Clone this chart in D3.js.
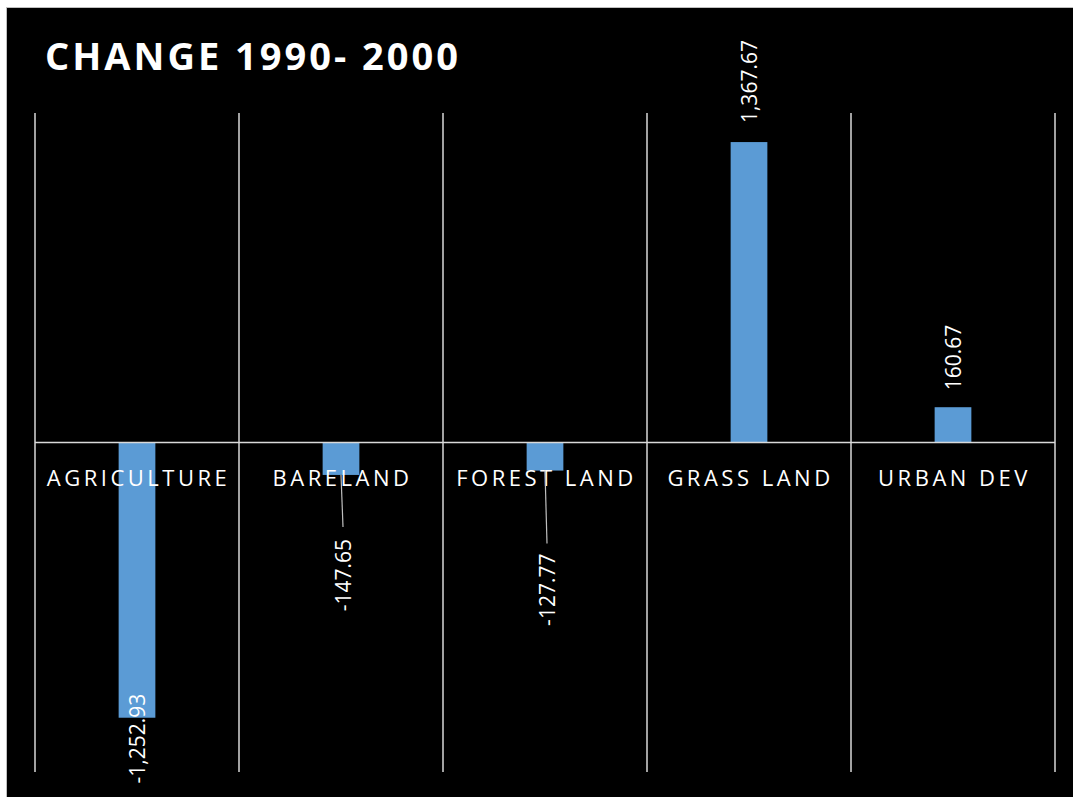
<!DOCTYPE html>
<html>
<head>
<meta charset="utf-8">
<script src="https://cdn.jsdelivr.net/npm/d3@7"></script>
<style>
  body { margin: 0; background: #fff; }
  svg { display: block; }
</style>
</head>
<body>
<svg id="chart" width="1073" height="797"></svg>
<script>
const categories = ["AGRICULTURE", "BARELAND", "FOREST LAND", "GRASS LAND", "URBAN DEV"];
const values = [-1252.93, -147.65, -127.77, 1367.67, 160.67];
const labelText = ["-1,252.93", "-147.65", "-127.77", "1,367.67", "160.67"];

const width = 1073, height = 797;
const svg = d3.select("#chart");

// black chart area with light frame
svg.append("rect")
  .attr("x", 6.5).attr("y", 7.5)
  .attr("width", width).attr("height", height)
  .attr("fill", "#000")
  .attr("stroke", "#bfbfbf")
  .attr("stroke-width", 1);

svg.append("text")
  .attr("x", 45).attr("y", 70)
  .attr("fill", "#fff")
  .style("font-family", "'Open Sans', sans-serif")
  .style("font-weight", "bold")
  .style("font-size", "38px")
  .style("letter-spacing", "3px")
  .text("CHANGE 1990- 2000");

const x = d3.scaleBand().domain(categories).range([35, 1055]).padding(0);
const y = d3.scaleLinear().domain([-1500, 1500]).range([772, 113]);
const barW = x.bandwidth() * 0.18;

// vertical gridlines at category edges
const edges = categories.map(c => x(c)).concat([x.range()[1]]);
svg.append("g").selectAll("line")
  .data(edges)
  .join("line")
  .attr("x1", d => d).attr("x2", d => d)
  .attr("y1", y(1500)).attr("y2", y(-1500))
  .attr("stroke", "#d9d9d9")
  .attr("stroke-width", 1.5);

// bars
svg.append("g").selectAll("rect")
  .data(values)
  .join("rect")
  .attr("x", (d, i) => x(categories[i]) + x.bandwidth() / 2 - barW / 2)
  .attr("y", d => y(Math.max(0, d)))
  .attr("width", barW)
  .attr("height", d => Math.abs(y(d) - y(0)))
  .attr("fill", "#5b9bd5");

// zero axis line
svg.append("line")
  .attr("x1", x.range()[0]).attr("x2", x.range()[1])
  .attr("y1", y(0)).attr("y2", y(0))
  .attr("stroke", "#d9d9d9")
  .attr("stroke-width", 1.5);

// category labels
svg.append("g").selectAll("text")
  .data(categories)
  .join("text")
  .attr("x", d => x(d) + x.bandwidth() / 2 + 1.5)
  .attr("y", y(0) + 43)
  .attr("text-anchor", "middle")
  .attr("fill", "#fff")
  .style("font-family", "'Open Sans', sans-serif")
  .style("font-size", "22px")
  .style("letter-spacing", "3.5px")
  .text(d => d);

// data labels (rotated); small negatives moved down with leader lines
const labelGap = [-24, 64, 83, 19, 17];
const leaderEnd = [0, 52, 73, 0, 0];

const cx = i => x(categories[i]) + x.bandwidth() / 2;

svg.append("g").selectAll("line")
  .data(values.map((v, i) => i).filter(i => leaderEnd[i] > 0))
  .join("line")
  .attr("x1", i => cx(i)).attr("x2", i => cx(i) + 2)
  .attr("y1", i => y(values[i])).attr("y2", i => y(values[i]) + leaderEnd[i])
  .attr("stroke", "#bfbfbf")
  .attr("stroke-width", 1.2);

svg.append("g").selectAll("text")
  .data(values)
  .join("text")
  .attr("transform", (d, i) => {
    const ly = d >= 0 ? y(d) - labelGap[i] : y(d) + labelGap[i];
    return `translate(${cx(i) + 7.5 + (leaderEnd[i] > 0 ? 2 : 0)},${ly}) rotate(-90)`;
  })
  .attr("text-anchor", (d, i) => d >= 0 ? "start" : "end")
  .attr("fill", "#fff")
  .style("font-family", "'Open Sans', sans-serif")
  .style("font-size", "21px")
  .text((d, i) => labelText[i]);
</script>
</body>
</html>
